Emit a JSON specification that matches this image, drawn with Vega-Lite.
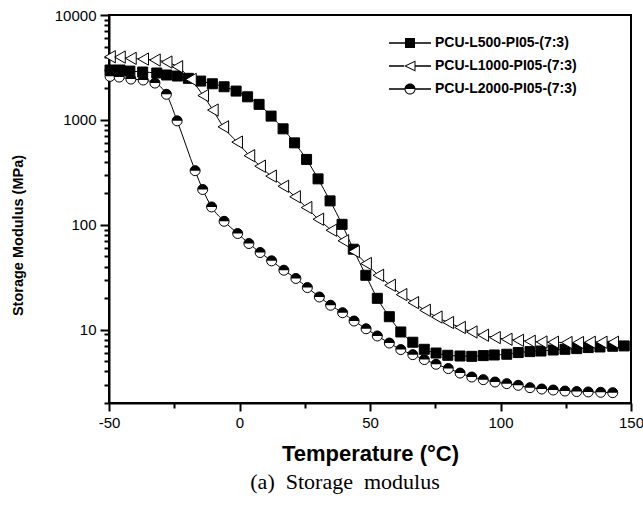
{
  "$schema": "https://vega.github.io/schema/vega-lite/v6.json",
  "width": 522,
  "height": 388,
  "autosize": {"type": "none"},
  "padding": {"left": 109, "top": 15, "right": 12, "bottom": 104},
  "background": "white",
  "config": {
    "view": {"stroke": "black", "strokeWidth": 2},
    "axis": {
      "domainColor": "black", "domainWidth": 2, "tickColor": "black", "tickWidth": 2,
      "labelFont": "Liberation Sans", "labelFontSize": 15, "labelColor": "black",
      "titleFont": "Liberation Sans", "titleFontWeight": "bold", "titleColor": "black",
      "grid": false, "labelFlush": false, "labelOverlap": false, "labelBound": false
    }
  },
  "title": {
    "text": "(a)\u00a0 Storage\u00a0 modulus", "orient": "bottom", "font": "Liberation Serif",
    "fontSize": 22, "fontWeight": "normal", "color": "black", "anchor": "middle",
    "frame": "group", "offset": 8, "dx": -25
  },
  "data": {"values": [
    {"series": "PCU-L500-PI05-(7:3)", "T": -49.6, "E": 2990},
    {"series": "PCU-L500-PI05-(7:3)", "T": -45.8, "E": 2990},
    {"series": "PCU-L500-PI05-(7:3)", "T": -42.0, "E": 2920},
    {"series": "PCU-L500-PI05-(7:3)", "T": -37.1, "E": 2860},
    {"series": "PCU-L500-PI05-(7:3)", "T": -31.7, "E": 2800},
    {"series": "PCU-L500-PI05-(7:3)", "T": -27.9, "E": 2680},
    {"series": "PCU-L500-PI05-(7:3)", "T": -23.8, "E": 2620},
    {"series": "PCU-L500-PI05-(7:3)", "T": -19.6, "E": 2490},
    {"series": "PCU-L500-PI05-(7:3)", "T": -14.9, "E": 2345},
    {"series": "PCU-L500-PI05-(7:3)", "T": -10.4, "E": 2210},
    {"series": "PCU-L500-PI05-(7:3)", "T": -5.9, "E": 2070},
    {"series": "PCU-L500-PI05-(7:3)", "T": -1.3, "E": 1883},
    {"series": "PCU-L500-PI05-(7:3)", "T": 3.1, "E": 1660},
    {"series": "PCU-L500-PI05-(7:3)", "T": 7.5, "E": 1406},
    {"series": "PCU-L500-PI05-(7:3)", "T": 12.1, "E": 1087},
    {"series": "PCU-L500-PI05-(7:3)", "T": 16.7, "E": 822},
    {"series": "PCU-L500-PI05-(7:3)", "T": 21.1, "E": 604},
    {"series": "PCU-L500-PI05-(7:3)", "T": 25.7, "E": 420},
    {"series": "PCU-L500-PI05-(7:3)", "T": 30.1, "E": 274},
    {"series": "PCU-L500-PI05-(7:3)", "T": 34.7, "E": 169},
    {"series": "PCU-L500-PI05-(7:3)", "T": 39.3, "E": 101},
    {"series": "PCU-L500-PI05-(7:3)", "T": 43.6, "E": 58.5},
    {"series": "PCU-L500-PI05-(7:3)", "T": 48.4, "E": 33.0},
    {"series": "PCU-L500-PI05-(7:3)", "T": 52.8, "E": 19.9},
    {"series": "PCU-L500-PI05-(7:3)", "T": 57.4, "E": 13.3},
    {"series": "PCU-L500-PI05-(7:3)", "T": 61.8, "E": 9.51},
    {"series": "PCU-L500-PI05-(7:3)", "T": 66.4, "E": 7.59},
    {"series": "PCU-L500-PI05-(7:3)", "T": 70.8, "E": 6.50},
    {"series": "PCU-L500-PI05-(7:3)", "T": 75.3, "E": 5.99},
    {"series": "PCU-L500-PI05-(7:3)", "T": 79.8, "E": 5.70},
    {"series": "PCU-L500-PI05-(7:3)", "T": 84.5, "E": 5.61},
    {"series": "PCU-L500-PI05-(7:3)", "T": 89.0, "E": 5.57},
    {"series": "PCU-L500-PI05-(7:3)", "T": 93.4, "E": 5.66},
    {"series": "PCU-L500-PI05-(7:3)", "T": 97.6, "E": 5.74},
    {"series": "PCU-L500-PI05-(7:3)", "T": 102.4, "E": 5.83},
    {"series": "PCU-L500-PI05-(7:3)", "T": 106.8, "E": 6.05},
    {"series": "PCU-L500-PI05-(7:3)", "T": 111.3, "E": 6.18},
    {"series": "PCU-L500-PI05-(7:3)", "T": 115.5, "E": 6.26},
    {"series": "PCU-L500-PI05-(7:3)", "T": 120.2, "E": 6.40},
    {"series": "PCU-L500-PI05-(7:3)", "T": 124.7, "E": 6.50},
    {"series": "PCU-L500-PI05-(7:3)", "T": 129.2, "E": 6.60},
    {"series": "PCU-L500-PI05-(7:3)", "T": 133.6, "E": 6.75},
    {"series": "PCU-L500-PI05-(7:3)", "T": 138.1, "E": 6.84},
    {"series": "PCU-L500-PI05-(7:3)", "T": 143.0, "E": 6.95},
    {"series": "PCU-L500-PI05-(7:3)", "T": 147.4, "E": 7.00},
    {"series": "PCU-L1000-PI05-(7:3)", "T": -49.6, "E": 4000},
    {"series": "PCU-L1000-PI05-(7:3)", "T": -45.8, "E": 3970},
    {"series": "PCU-L1000-PI05-(7:3)", "T": -41.6, "E": 3860},
    {"series": "PCU-L1000-PI05-(7:3)", "T": -36.9, "E": 3800},
    {"series": "PCU-L1000-PI05-(7:3)", "T": -32.4, "E": 3720},
    {"series": "PCU-L1000-PI05-(7:3)", "T": -27.9, "E": 3560},
    {"series": "PCU-L1000-PI05-(7:3)", "T": -23.8, "E": 3215},
    {"series": "PCU-L1000-PI05-(7:3)", "T": -18.6, "E": 2430},
    {"series": "PCU-L1000-PI05-(7:3)", "T": -13.9, "E": 1706},
    {"series": "PCU-L1000-PI05-(7:3)", "T": -10.2, "E": 1241},
    {"series": "PCU-L1000-PI05-(7:3)", "T": -6.2, "E": 859},
    {"series": "PCU-L1000-PI05-(7:3)", "T": -0.9, "E": 614},
    {"series": "PCU-L1000-PI05-(7:3)", "T": 3.8, "E": 456},
    {"series": "PCU-L1000-PI05-(7:3)", "T": 7.9, "E": 362},
    {"series": "PCU-L1000-PI05-(7:3)", "T": 12.1, "E": 291},
    {"series": "PCU-L1000-PI05-(7:3)", "T": 16.8, "E": 233},
    {"series": "PCU-L1000-PI05-(7:3)", "T": 21.3, "E": 185},
    {"series": "PCU-L1000-PI05-(7:3)", "T": 25.7, "E": 146},
    {"series": "PCU-L1000-PI05-(7:3)", "T": 30.2, "E": 113},
    {"series": "PCU-L1000-PI05-(7:3)", "T": 35.2, "E": 88.7},
    {"series": "PCU-L1000-PI05-(7:3)", "T": 39.8, "E": 70.4},
    {"series": "PCU-L1000-PI05-(7:3)", "T": 43.9, "E": 55.6},
    {"series": "PCU-L1000-PI05-(7:3)", "T": 48.5, "E": 42.7},
    {"series": "PCU-L1000-PI05-(7:3)", "T": 53.2, "E": 33.0},
    {"series": "PCU-L1000-PI05-(7:3)", "T": 57.7, "E": 26.5},
    {"series": "PCU-L1000-PI05-(7:3)", "T": 62.1, "E": 21.6},
    {"series": "PCU-L1000-PI05-(7:3)", "T": 66.6, "E": 18.1},
    {"series": "PCU-L1000-PI05-(7:3)", "T": 71.1, "E": 15.3},
    {"series": "PCU-L1000-PI05-(7:3)", "T": 75.6, "E": 13.2},
    {"series": "PCU-L1000-PI05-(7:3)", "T": 80.0, "E": 11.7},
    {"series": "PCU-L1000-PI05-(7:3)", "T": 84.5, "E": 10.5},
    {"series": "PCU-L1000-PI05-(7:3)", "T": 89.0, "E": 9.51},
    {"series": "PCU-L1000-PI05-(7:3)", "T": 93.4, "E": 8.85},
    {"series": "PCU-L1000-PI05-(7:3)", "T": 97.9, "E": 8.41},
    {"series": "PCU-L1000-PI05-(7:3)", "T": 102.4, "E": 8.10},
    {"series": "PCU-L1000-PI05-(7:3)", "T": 106.8, "E": 7.92},
    {"series": "PCU-L1000-PI05-(7:3)", "T": 111.3, "E": 7.75},
    {"series": "PCU-L1000-PI05-(7:3)", "T": 115.8, "E": 7.63},
    {"series": "PCU-L1000-PI05-(7:3)", "T": 120.2, "E": 7.59},
    {"series": "PCU-L1000-PI05-(7:3)", "T": 125.4, "E": 7.54},
    {"series": "PCU-L1000-PI05-(7:3)", "T": 129.8, "E": 7.54},
    {"series": "PCU-L1000-PI05-(7:3)", "T": 134.3, "E": 7.59},
    {"series": "PCU-L1000-PI05-(7:3)", "T": 138.8, "E": 7.59},
    {"series": "PCU-L1000-PI05-(7:3)", "T": 143.2, "E": 7.59},
    {"series": "PCU-L2000-PI05-(7:3)", "T": -49.6, "E": 2600},
    {"series": "PCU-L2000-PI05-(7:3)", "T": -46.1, "E": 2560},
    {"series": "PCU-L2000-PI05-(7:3)", "T": -41.6, "E": 2450},
    {"series": "PCU-L2000-PI05-(7:3)", "T": -36.9, "E": 2400},
    {"series": "PCU-L2000-PI05-(7:3)", "T": -32.4, "E": 2244},
    {"series": "PCU-L2000-PI05-(7:3)", "T": -28.0, "E": 1754},
    {"series": "PCU-L2000-PI05-(7:3)", "T": -23.9, "E": 979},
    {"series": "PCU-L2000-PI05-(7:3)", "T": -17.0, "E": 328},
    {"series": "PCU-L2000-PI05-(7:3)", "T": -14.1, "E": 217},
    {"series": "PCU-L2000-PI05-(7:3)", "T": -10.7, "E": 148},
    {"series": "PCU-L2000-PI05-(7:3)", "T": -5.9, "E": 108},
    {"series": "PCU-L2000-PI05-(7:3)", "T": -0.7, "E": 82.6},
    {"series": "PCU-L2000-PI05-(7:3)", "T": 3.6, "E": 66.3},
    {"series": "PCU-L2000-PI05-(7:3)", "T": 7.9, "E": 54.4},
    {"series": "PCU-L2000-PI05-(7:3)", "T": 12.3, "E": 45.3},
    {"series": "PCU-L2000-PI05-(7:3)", "T": 17.0, "E": 36.9},
    {"series": "PCU-L2000-PI05-(7:3)", "T": 21.6, "E": 30.8},
    {"series": "PCU-L2000-PI05-(7:3)", "T": 26.0, "E": 25.2},
    {"series": "PCU-L2000-PI05-(7:3)", "T": 30.6, "E": 20.5},
    {"series": "PCU-L2000-PI05-(7:3)", "T": 34.9, "E": 17.1},
    {"series": "PCU-L2000-PI05-(7:3)", "T": 39.5, "E": 14.5},
    {"series": "PCU-L2000-PI05-(7:3)", "T": 43.9, "E": 12.1},
    {"series": "PCU-L2000-PI05-(7:3)", "T": 48.5, "E": 10.2},
    {"series": "PCU-L2000-PI05-(7:3)", "T": 52.8, "E": 8.71},
    {"series": "PCU-L2000-PI05-(7:3)", "T": 57.4, "E": 7.46},
    {"series": "PCU-L2000-PI05-(7:3)", "T": 61.8, "E": 6.46},
    {"series": "PCU-L2000-PI05-(7:3)", "T": 66.4, "E": 5.78},
    {"series": "PCU-L2000-PI05-(7:3)", "T": 70.8, "E": 5.19},
    {"series": "PCU-L2000-PI05-(7:3)", "T": 75.3, "E": 4.68},
    {"series": "PCU-L2000-PI05-(7:3)", "T": 80.0, "E": 4.26},
    {"series": "PCU-L2000-PI05-(7:3)", "T": 84.5, "E": 3.86},
    {"series": "PCU-L2000-PI05-(7:3)", "T": 89.0, "E": 3.54},
    {"series": "PCU-L2000-PI05-(7:3)", "T": 93.4, "E": 3.34},
    {"series": "PCU-L2000-PI05-(7:3)", "T": 97.9, "E": 3.17},
    {"series": "PCU-L2000-PI05-(7:3)", "T": 102.4, "E": 3.06},
    {"series": "PCU-L2000-PI05-(7:3)", "T": 106.8, "E": 2.95},
    {"series": "PCU-L2000-PI05-(7:3)", "T": 111.3, "E": 2.80},
    {"series": "PCU-L2000-PI05-(7:3)", "T": 115.8, "E": 2.72},
    {"series": "PCU-L2000-PI05-(7:3)", "T": 120.2, "E": 2.66},
    {"series": "PCU-L2000-PI05-(7:3)", "T": 124.7, "E": 2.60},
    {"series": "PCU-L2000-PI05-(7:3)", "T": 129.2, "E": 2.57},
    {"series": "PCU-L2000-PI05-(7:3)", "T": 133.6, "E": 2.55},
    {"series": "PCU-L2000-PI05-(7:3)", "T": 138.4, "E": 2.53},
    {"series": "PCU-L2000-PI05-(7:3)", "T": 143.0, "E": 2.51}
  ]},
  "resolve": {
    "scale": {"shape": "independent"},
    "legend": {"shape": "independent"},
    "axis": {"x": "independent", "y": "independent"}
  },
  "layer": [
    {
      "mark": {"type": "line", "stroke": "black", "strokeWidth": 1, "interpolate": "monotone"},
      "encoding": {
        "x": {
          "field": "T", "type": "quantitative",
          "scale": {"domain": [-50, 150], "nice": false, "zero": false},
          "axis": {
            "orient": "bottom",
            "title": "Temperature (°C)", "titleFontSize": 22,
            "titleX": 261, "titleY": 50, "titleBaseline": "middle", "titleAlign": "center",
            "values": [-50, 0, 50, 100, 150],
            "labelExpr": "'' + datum.value",
            "labelPadding": 4, "tickSize": 8
          }
        },
        "y": {
          "field": "E", "type": "quantitative",
          "scale": {"type": "log", "domain": [2, 10000], "nice": false},
          "axis": {
            "orient": "left",
            "title": "Storage Modulus (MPa)", "titleFontSize": 14.5,
            "titleX": -91, "titleY": 220, "titleBaseline": "middle", "titleAlign": "center", "titleAngle": -90,
            "format": "d",
            "values": [10, 100, 1000, 10000],
            "labelPadding": 4, "tickSize": 9
          }
        },
        "detail": {"field": "series"}
      }
    },
    {
      "mark": {"type": "point", "filled": true, "stroke": "black", "strokeWidth": 1, "opacity": 1},
      "encoding": {
        "x": {"field": "T", "type": "quantitative", "axis": null},
        "y": {"field": "E", "type": "quantitative", "axis": null},
        "shape": {
          "field": "series", "type": "nominal",
          "scale": {"domain": ["PCU-L500-PI05-(7:3)", "PCU-L1000-PI05-(7:3)", "PCU-L2000-PI05-(7:3)"], "range": ["square", "triangle-left", "circle"]},
          "legend": null
        },
        "fill": {
          "condition": {"test": "datum.series !== 'PCU-L500-PI05-(7:3)'", "value": "white"},
          "value": "black"
        },
        "size": {
          "condition": {"test": "datum.series === 'PCU-L1000-PI05-(7:3)'", "value": 150},
          "value": 100
        }
      }
    },
    {
      "transform": [{"filter": "datum.series === 'PCU-L2000-PI05-(7:3)'"}],
      "mark": {"type": "point", "filled": true, "fill": "black", "strokeWidth": 0, "opacity": 1, "size": 100, "shape": "M-1,0A1,1 0 0 1 1,0Z"},
      "encoding": {
        "x": {"field": "T", "type": "quantitative", "axis": null},
        "y": {"field": "E", "type": "quantitative", "axis": null}
      }
    },
    {
      "mark": {"type": "point", "filled": true, "fill": "black", "color": "black", "strokeWidth": 0, "opacity": 0, "size": 100},
      "encoding": {
        "x": {
          "field": "T", "type": "quantitative",
          "axis": {
            "orient": "bottom", "title": null, "domain": false, "labels": false,
            "values": [-25, 25, 75, 125], "tickSize": 5
          }
        },
        "y": {
          "field": "E", "type": "quantitative",
          "axis": {
            "orient": "left", "title": null, "domain": false, "labels": false,
            "values": [2,3,4,5,6,7,8,9,20,30,40,50,60,70,80,90,200,300,400,500,600,700,800,900,2000,3000,4000,5000,6000,7000,8000,9000],
            "tickSize": 5
          }
        },
        "shape": {
          "field": "series", "type": "nominal",
          "scale": {
            "domain": ["PCU-L500-PI05-(7:3)", "PCU-L1000-PI05-(7:3)", "PCU-L2000-PI05-(7:3)"],
            "range": [
              "M-4.2,-0.13H4.2V0.13H-4.2Z M-1,-1H1V1H-1Z",
              "M-4.2,-0.13H-1.2V0.13H-4.2Z M1.1,-0.13H4.2V0.13H1.1Z M-1.2,0L1.1,-1.1L1.1,1.1Z M-0.75,0L0.9,0.8L0.9,-0.8Z",
              "M-4.2,-0.13H-1.1V0.13H-4.2Z M1.1,-0.13H4.2V0.13H1.1Z M-1.1,0A1.1,1.1 0 0 1 1.1,0Z M1.1,0A1.1,1.1 0 0 1 -1.1,0L-0.9,0A0.9,0.9 0 0 0 0.9,0Z"
            ]
          },
          "legend": {
            "title": null, "orient": "none", "legendX": 294, "legendY": 21,
            "padding": 0, "rowPadding": 9, "symbolSize": 100, "labelOffset": 18,
            "labelFont": "Liberation Sans", "labelFontWeight": "bold", "labelFontSize": 14, "labelColor": "black",
            "symbolFillColor": "black", "symbolStrokeWidth": 0, "symbolOpacity": 1,
            "encode": {"symbols": {"fill": {"value": "black"}, "opacity": {"value": 1}}}
          }
        }
      }
    }
  ]
}
